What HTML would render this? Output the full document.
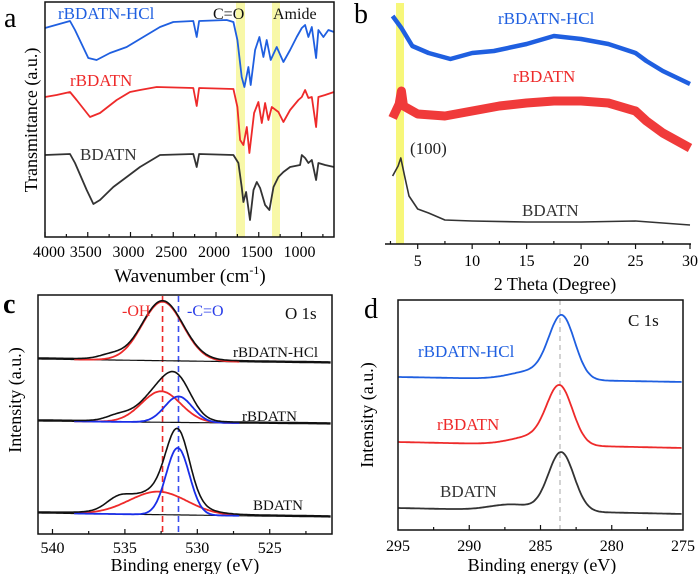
<!DOCTYPE html>
<html><head><meta charset="utf-8"><style>
html,body{margin:0;padding:0;background:#fff;}
svg{display:block;font-family:"Liberation Serif",serif;}
</style></head><body>
<svg id="fig" width="700" height="574" viewBox="0 0 700 574" xmlns="http://www.w3.org/2000/svg">
<rect width="700" height="574" fill="#fff"/>
<!-- Panel a static -->
<g>
<rect x="236" y="2" width="9" height="235" fill="#f8f8a8"/>
<rect x="272" y="2" width="8" height="235" fill="#f8f8a8"/>
<g id="a-marks"></g>
<rect x="45" y="2" width="289" height="235" fill="none" stroke="#111" stroke-width="1.5"/>
<g id="a-ticks"></g>
<text x="4" y="27" font-size="28">a</text>
<text x="58" y="19" font-size="17" fill="#1f5fe0">rBDATN-HCl</text>
<text x="213" y="19" font-size="16" fill="#111">C=O</text>
<text x="273" y="19" font-size="16" fill="#111">Amide</text>
<text x="70" y="86" font-size="17" fill="#ee2a2a">rBDATN</text>
<text x="80" y="160" font-size="17" fill="#333">BDATN</text>
<text transform="translate(37,120) rotate(-90)" text-anchor="middle" font-size="18">Transmittance (a.u.)</text>
<text x="190" y="282" text-anchor="middle" font-size="19">Wavenumber (cm<tspan font-size="12" dy="-8">-1</tspan><tspan dy="8">)</tspan></text>
</g>
<!-- Panel b -->
<g>
<rect x="396" y="3" width="8" height="241" fill="#f7f77a"/>
<g id="b-marks"></g>
<line x1="385" y1="244" x2="691" y2="244" stroke="#111" stroke-width="1.5"/>
<g id="b-ticks"></g>
<text x="354" y="23" font-size="28">b</text>
<text x="498" y="24" font-size="17" fill="#1f5fe0">rBDATN-HCl</text>
<text x="513" y="82" font-size="17" fill="#ee2a2a">rBDATN</text>
<text x="410" y="154" font-size="17" fill="#222">(100)</text>
<text x="522" y="216" font-size="17" fill="#333">BDATN</text>
<text x="555" y="290" text-anchor="middle" font-size="18">2 Theta (Degree)</text>
</g>
<!-- Panel c -->
<g>
<g id="c-marks"></g>
<rect x="38" y="295" width="294" height="239" fill="none" stroke="#111" stroke-width="1.5"/>
<g id="c-ticks"></g>
<text x="3" y="313" font-size="28" font-weight="bold">c</text>
<text x="122" y="316" font-size="16" fill="#ee2a2a">-OH</text>
<text x="187" y="316" font-size="16" fill="#2a3ee8">-C=O</text>
<text x="285" y="319" font-size="17" fill="#111">O 1s</text>
<text x="233" y="357" font-size="15" fill="#111">rBDATN-HCl</text>
<text x="242" y="421" font-size="15" fill="#111">rBDATN</text>
<text x="253" y="510" font-size="15" fill="#111">BDATN</text>
<text transform="translate(21,400) rotate(-90)" text-anchor="middle" font-size="18">Intensity (a.u.)</text>
<text x="185" y="571" text-anchor="middle" font-size="18">Binding energy (eV)</text>
</g>
<!-- Panel d -->
<g>
<line x1="560" y1="300" x2="560" y2="530" stroke="#bbb" stroke-width="1.3" stroke-dasharray="5,4"/>
<g id="d-marks"></g>
<rect x="398" y="300" width="285" height="230" fill="none" stroke="#111" stroke-width="1.5"/>
<g id="d-ticks"></g>
<text x="364" y="318" font-size="28">d</text>
<text x="628" y="326" font-size="17" fill="#111">C 1s</text>
<text x="418" y="357" font-size="17" fill="#1f5fe0">rBDATN-HCl</text>
<text x="437" y="430" font-size="17" fill="#ee2a2a">rBDATN</text>
<text x="440" y="497" font-size="17" fill="#333">BDATN</text>
<text transform="translate(373,415) rotate(-90)" text-anchor="middle" font-size="18">Intensity (a.u.)</text>
<text x="542" y="571" text-anchor="middle" font-size="18">Binding energy (eV)</text>
</g>
</svg>
<script>
// ---------- Panel a data (wavenumber, transmittance a.u.) ----------
const aBlueX=[4000,3708,3649,3493,3396,3240,3045,2850,2655,2499,2266,2226,2198,1875,1797,1750,1699,1668,1621,1594,1543,1492,1446,1407,1360,1290,1212,1134,1056,997,958,919,880,829,802,744,685,620];
const aBlueY=[209,216,207,179,177,184,190,200,210,215,216,200,216,217,215,197,160,150,170,152,187,200,180,197,177,190,175,187,200,209,212,200,210,179,207,200,207,205];
const aRedX=[4000,3864,3708,3630,3474,3357,3162,3006,2889,2694,2266,2226,2198,1797,1750,1718,1680,1640,1609,1555,1504,1465,1426,1387,1348,1270,1212,1134,1036,997,958,919,880,829,802,724,620];
const aRedY=[140,142,145,137,120,124,137,145,147,150,149,131,149,148,130,97,92,110,84,124,135,114,134,117,130,125,115,127,137,140,147,139,140,110,140,142,145];
const aBlackX=[4000,3708,3649,3512,3434,3357,3201,3045,2889,2655,2266,2226,2198,1797,1738,1699,1680,1648,1602,1562,1523,1484,1426,1375,1328,1270,1212,1134,1017,997,958,919,880,829,802,724,620];
const aBlackY=[82,83,74,47,33,37,50,60,70,82,83,70,83,82,74,50,35,45,17,47,55,49,32,27,50,60,65,70,72,82,79,74,77,57,74,72,70];
const aTicks=[4000,3500,3000,2500,2000,1500,1000];
// ---------- Panel b data (2 theta, intensity a.u.) ----------
const bBlueX=[2.7,3.5,4.5,6,8,10,12,15,17.5,20,22.5,25,26,27.5,30];
const bBlueY=[228,216,198,191,185,191,193,200,208,205,200,191,183,173,160];
const bRedX=[2.7,3.3,3.5,3.7,5,7.5,10,12.5,15,17.5,20,22.5,25,26,27.5,30];
const bRedY=[126,140,153,138,130,128,133,138,141,143,143,141,133,123,111,96];
const bBlackX=[2.7,3.2,3.45,3.8,4.2,5,6,7.5,10,15,20,25,30];
const bBlackY=[68,78,86,68,48,35,31,24,23,22,22,23,19];
const bTicks=[5,10,15,20,25,30];
// ---------- Panel c data (O 1s peak fits) ----------
const cNames=["rbdatn-hcl","rbdatn","bdatn"];
const cBaseLeft=[175,113,21];
const cBaseRight=[171,110,17];
const cOHCenter=[532.4,532.5,532.7];
const cOHHeight=[59,31,23];
const cOHSigma=[1.41,1.35,2.0];
const cCOCenter=[531.3,531.3,531.35];
const cCOHeight=[0,26,67];
const cCOSigma=[0.95,0.95,0.8];
const cHumpCenter=[536,535.5,535.5];
const cHumpHeight=[4,5,9];
const cTicks=[540,535,530,525];
// ---------- Panel d data (C 1s) ----------
const dNames=["rbdatn-hcl","rbdatn","bdatn"];
const dColors=["#1f5fe0","#ee2a2a","#333"];
const dBaseLeft=[153,88,22];
const dBaseRight=[148,82,16];
const dMainCenter=[283.5,283.65,283.55];
const dMainHeight=[62,57,59];
const dMainSigma=[0.9,0.9,0.9];
const dTailCenter=[285.6,285.6,287.0];
const dTailHeight=[8,8,6];
const dTicks=[295,290,285,280,275];

const NS="http://www.w3.org/2000/svg";
function lin(d0,d1,r0,r1){return v=>r0+(v-d0)*(r1-r0)/(d1-d0);}
function mk(tag,attrs,parent){const e=document.createElementNS(NS,tag);for(const k in attrs)e.setAttribute(k,attrs[k]);parent.appendChild(e);return e;}
function pathFrom(xs,ys,sx,sy){return xs.map((x,i)=>(i?"L":"M")+sx(x).toFixed(1)+","+sy(ys[i]).toFixed(1)).join("");}
function gauss(x,c,h,s){return h*Math.exp(-((x-c)*(x-c))/(2*s*s));}

// Panel a
const ax=lin(4000,620,45,334), ay=lin(0,235,237,2);
const aG=document.getElementById("a-marks");
[[aBlueX,aBlueY,"#1f5fe0","ftir-rbdatn-hcl"],[aRedX,aRedY,"#ee2a2a","ftir-rbdatn"],[aBlackX,aBlackY,"#333","ftir-bdatn"]].forEach(s=>{
 const p=mk("path",{d:pathFrom(s[0],s[1],ax,ay),fill:"none",stroke:s[2],"stroke-width":1.8,"stroke-linejoin":"round"},aG);
 
 
});
const aT=document.getElementById("a-ticks");
for(let w=4000;w>=750;w-=250){const x=ax(w);const major=(w%500===0);
 const t=mk("line",{x1:x,x2:x,y1:237,y2:237-(major?5:3),stroke:"#111","stroke-width":1.2},aT);
 
 }
aTicks.forEach(w=>{const t=mk("text",{x:ax(w)+(w===4000?4:-2),y:257,"text-anchor":"middle","font-size":16},aT);t.textContent=w;
 
 });

// Panel b
const bx=lin(5,30,417.7,690), by=lin(0,240,244,4);
const bG=document.getElementById("b-marks");
[[bBlueX,bBlueY,"#1f5fe0",4.5,"xrd-rbdatn-hcl"],[bRedX,bRedY,"#f03a3a",9,"xrd-rbdatn"],[bBlackX,bBlackY,"#333",1.6,"xrd-bdatn"]].forEach(s=>{
 const p=mk("path",{d:pathFrom(s[0],s[1],bx,by),fill:"none",stroke:s[2],"stroke-width":s[3],"stroke-linejoin":"round"},bG);
 
 
});
const bT=document.getElementById("b-ticks");
for(let v=2.5;v<=30;v+=2.5){const x=bx(v);const major=(v%5===0);
 const t=mk("line",{x1:x,x2:x,y1:major?244:241,y2:major?249:244,stroke:"#111","stroke-width":1.2},bT);
 
 }
bTicks.forEach(v=>{const t=mk("text",{x:bx(v),y:266,"text-anchor":"middle","font-size":16},bT);t.textContent=v;
 
 });

// Panel c
const cx=lin(541,520.7,38,332), cy=lin(0,239,534,295);
const cG=document.getElementById("c-marks");
mk("line",{x1:cx(532.4),x2:cx(532.4),y1:296,y2:534,stroke:"#ee2a2a","stroke-width":1.6,"stroke-dasharray":"6,4"},cG);
mk("line",{x1:cx(531.3),x2:cx(531.3),y1:296,y2:534,stroke:"#3a4ef0","stroke-width":1.6,"stroke-dasharray":"6,4"},cG);
cNames.forEach((nm,i)=>{
 const base=e=>cBaseLeft[i]+(e-541)*(cBaseRight[i]-cBaseLeft[i])/(520.7-541);
 const xsFull=[],xsPart=[];
 for(let e=541;e>=520.7;e-=0.1)xsFull.push(e);
 for(let e=538.5;e>=527;e-=0.1)xsPart.push(e);
 const bl=mk("path",{d:pathFrom(xsFull,xsFull.map(base),cx,cy),fill:"none",stroke:"#111","stroke-width":1.2},cG);
 
 
 const rd=mk("path",{d:pathFrom(xsPart,xsPart.map(e=>base(e)+gauss(e,cOHCenter[i],cOHHeight[i],cOHSigma[i])),cx,cy),fill:"none",stroke:"#ee2a2a","stroke-width":1.8},cG);
 
 
 if(cCOHeight[i]>0){
 const bu=mk("path",{d:pathFrom(xsPart,xsPart.map(e=>base(e)+gauss(e,cCOCenter[i],cCOHeight[i],cCOSigma[i])),cx,cy),fill:"none",stroke:"#1a2ee8","stroke-width":1.8},cG);
 
 }
 const dat=mk("path",{d:pathFrom(xsFull,xsFull.map(e=>base(e)+1+gauss(e,cOHCenter[i],cOHHeight[i],cOHSigma[i])+gauss(e,cCOCenter[i],cCOHeight[i],cCOSigma[i])+gauss(e,cHumpCenter[i],cHumpHeight[i],0.8)),cx,cy),fill:"none",stroke:"#111","stroke-width":1.6},cG);
 
 
});
const cT=document.getElementById("c-ticks");
for(let e=540;e>=522.5;e-=2.5){const x=cx(e);const major=(e%5===0);
 const t=mk("line",{x1:x,x2:x,y1:534,y2:534-(major?5:3),stroke:"#111","stroke-width":1.2},cT);
 
 }
cTicks.forEach(e=>{const t=mk("text",{x:cx(e),y:553,"text-anchor":"middle","font-size":16},cT);t.textContent=e;
 
 });

// Panel d
const dx=lin(295,275,398,683), dy=lin(0,230,530,300);
const dG=document.getElementById("d-marks");
dNames.forEach((nm,i)=>{
 const xs=[];for(let e=295;e>=275;e-=0.1)xs.push(e);
 const ys=xs.map(e=>dBaseLeft[i]+(e-295)*(dBaseRight[i]-dBaseLeft[i])/(275-295)+gauss(e,dMainCenter[i],dMainHeight[i],dMainSigma[i])+gauss(e,dTailCenter[i],dTailHeight[i],1.5));
 const p=mk("path",{d:pathFrom(xs,ys,dx,dy),fill:"none",stroke:dColors[i],"stroke-width":1.8},dG);
 
 
});
const dT=document.getElementById("d-ticks");
for(let e=292.5;e>=277.5;e-=2.5){const x=dx(e);const major=(e%5===0);
 const t=mk("line",{x1:x,x2:x,y1:530,y2:530-(major?5:3),stroke:"#111","stroke-width":1.2},dT);
 
 }
dTicks.forEach(e=>{const t=mk("text",{x:dx(e),y:551,"text-anchor":"middle","font-size":16},dT);t.textContent=e;
 
 });
</script>
</body></html>
